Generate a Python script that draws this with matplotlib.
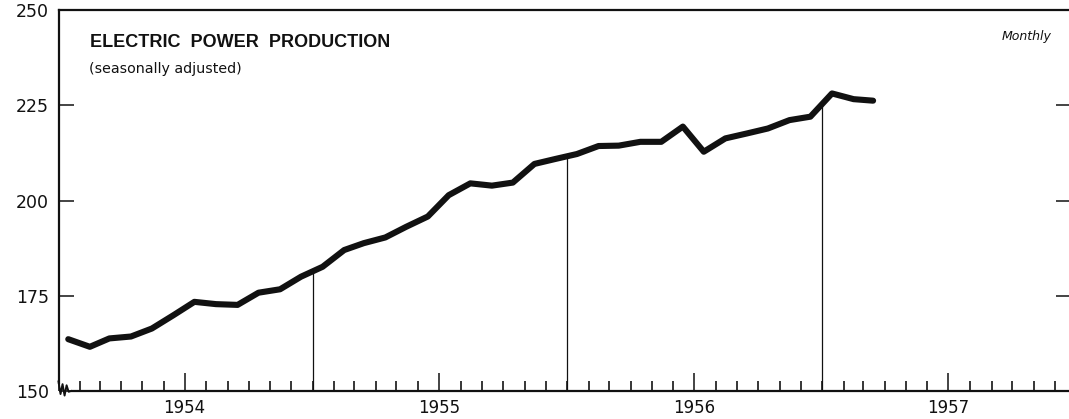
import matplotlib

matplotlib.use("Agg")
import matplotlib.dates as mdates
import matplotlib.pyplot as plt
import numpy as np
import pandas as pd

# monthly index, seasonally adjusted, Jan 1954 - Mar 1957
start_month = "1954-01"
production = [
    163.6, 161.6, 163.8, 164.3, 166.4, 169.9, 173.4, 172.8, 172.6, 175.8,
    176.7, 180.0, 182.6, 187.0, 188.8, 190.3, 193.1, 195.8, 201.4, 204.5,
    203.9, 204.7, 209.6, 210.9, 212.2, 214.3, 214.4, 215.4, 215.4, 219.4,
    212.8, 216.3, 217.6, 218.9, 221.1, 222.0, 228.1, 226.6, 226.2,
]
drop_years = ["1955-01-01", "1956-01-01", "1957-01-01"]
y_ticks = [150, 175, 200, 225, 250]

dates = pd.date_range(start_month, periods=len(production), freq="MS") + pd.Timedelta(days=14)
xnum = mdates.date2num(dates.to_pydatetime())
values = np.asarray(production)

W, H = 1069, 419
fig = plt.figure(figsize=(W / 100, H / 100), dpi=100)
left_px, right_px, top_px, bottom_px = 58.5, 1071, 10, 391
ax = fig.add_axes([
    left_px / W,
    (H - bottom_px) / H,
    (right_px - left_px) / W,
    (bottom_px - top_px) / H,
])

ink = "#111111"
ax.plot(xnum, values, color=ink, linewidth=4.4, solid_capstyle="round",
        solid_joinstyle="round", zorder=3)

# thin drop lines at the turn of each year, up to the curve
for d in drop_years:
    xd = mdates.date2num(pd.Timestamp(d).to_pydatetime())
    top = float(np.interp(xd, xnum, values))
    ax.plot([xd, xd], [150, top], color=ink, linewidth=0.9, zorder=2)

ax.set_ylim(150, 250)
ax.set_xlim(mdates.date2num(pd.Timestamp("1954-01-01").to_pydatetime()),
            mdates.date2num(pd.Timestamp("1957-12-24").to_pydatetime()))
ax.set_yticks(y_ticks)
ax.yaxis.set_ticks_position("both")
ax.tick_params(axis="y", which="major", direction="in", length=11, width=1.1,
               pad=7, labelsize=12.5, colors=ink)

ax.xaxis.set_major_locator(mdates.MonthLocator(bymonth=7))
ax.xaxis.set_major_formatter(mdates.DateFormatter("%Y"))
ax.xaxis.set_minor_locator(mdates.MonthLocator())
ax.tick_params(axis="x", which="major", direction="in", length=13, width=1.1,
               pad=6, labelsize=12, colors=ink)
ax.tick_params(axis="x", which="minor", direction="in", length=7.5, width=1.1)
ax.tick_params(axis="x", top=False, which="both")

for side in ["left", "top", "bottom"]:
    ax.spines[side].set_linewidth(1.6)
    ax.spines[side].set_color(ink)
ax.spines["right"].set_visible(False)
ax.spines["left"].set_bounds(152, 250)
ax.spines["bottom"].set_bounds(
    mdates.date2num(pd.Timestamp("1954-01-20").to_pydatetime()), ax.get_xlim()[1]
)

# axis break squiggle at the bottom-left corner
zz_x = [0.0, 0.002, 0.004, 0.006, 0.008, 0.010, 0.0125]
zz_y = [0.025, -0.008, 0.018, -0.012, 0.015, -0.002, 0.0]
ax.plot(zz_x, zz_y, transform=ax.transAxes, color=ink, linewidth=1.4,
        clip_on=False)

fig.text(90 / W, 1 - 47 / H, "ELECTRIC  POWER  PRODUCTION", fontsize=13,
         fontweight="bold", family="Liberation Sans", color=ink,
         ha="left", va="baseline")
fig.text(89 / W, 1 - 73 / H, "(seasonally adjusted)", fontsize=10.3,
         color=ink, ha="left", va="baseline")
fig.text(1052 / W, 1 - 40 / H, "Monthly", fontsize=9, style="italic",
         color=ink, ha="right", va="baseline")

fig.savefig("out.png", dpi=100)
